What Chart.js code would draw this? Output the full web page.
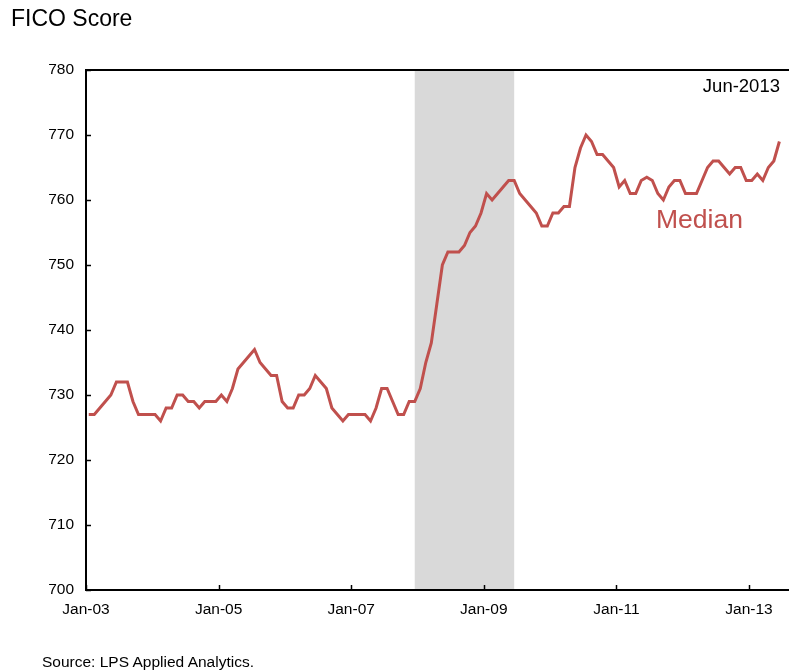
<!DOCTYPE html>
<html>
<head>
<meta charset="utf-8">
<title>FICO Score</title>
<script src="https://cdn.jsdelivr.net/npm/chart.js@4.4.0/dist/chart.umd.min.js"></script>
<style>
  body { margin: 0; background: #fff; font-family: "Liberation Sans", Arial, sans-serif; }
  #wrap { position: relative; width: 789px; height: 672px; overflow: hidden; }
  #wrap canvas { position: absolute; left: 0; top: 0; }
  .txt { position: absolute; line-height: 1; white-space: nowrap; color: #000; }
</style>
</head>
<body>
<div id="wrap">
  <canvas id="ficoChart" width="789" height="672"></canvas>
  <div class="txt" style="left:11px; top:7px; font-size:23px;">FICO Score</div>
  <div class="txt" style="right:9px; top:77px; font-size:18.5px;">Jun-2013</div>
  <div class="txt" style="left:656px; top:206px; font-size:26.5px; color:#C0504D;">Median</div>
  <div class="txt" style="left:42px; top:654px; font-size:15.5px;">Source: LPS Applied Analytics.</div>
</div>
<script>
// monthly median FICO score, Jan-03 .. Jun-13
const medianScore = [
  727, 727, 728, 729, 730, 732, 732, 732, 729, 727, 727, 727,   // 2003
  727, 726, 728, 728, 730, 730, 729, 729, 728, 729, 729, 729,   // 2004
  730, 729, 731, 734, 735, 736, 737, 735, 734, 733, 733, 729,   // 2005
  728, 728, 730, 730, 731, 733, 732, 731, 728, 727, 726, 727,   // 2006
  727, 727, 727, 726, 728, 731, 731, 729, 727, 727, 729, 729,   // 2007
  731, 735, 738, 744, 750, 752, 752, 752, 753, 755, 756, 758,   // 2008
  761, 760, 761, 762, 763, 763, 761, 760, 759, 758, 756, 756,   // 2009
  758, 758, 759, 759, 765, 768, 770, 769, 767, 767, 766, 765,   // 2010
  762, 763, 761, 761, 763, 763.5, 763, 761, 760, 762, 763, 763, // 2011
  761, 761, 761, 763, 765, 766, 766, 765, 764, 765, 765, 763,   // 2012
  763, 764, 763, 765, 766, 769                                  // 2013
];

const monthNames = ['Jan','Feb','Mar','Apr','May','Jun','Jul','Aug','Sep','Oct','Nov','Dec'];
const monthLabels = medianScore.map((v, i) =>
  monthNames[i % 12] + '-' + String(3 + Math.floor(i / 12)).padStart(2, '0'));

const xTickLabels = ['Jan-03', 'Jan-05', 'Jan-07', 'Jan-09', 'Jan-11', 'Jan-13'];
const yTicks = [700, 710, 720, 730, 740, 750, 760, 770, 780];
const recessionSpan = ['Dec-07', 'Jun-09'];

const lineColor = '#C0504D';
const bandColor = '#D9D9D9';
const fontFamily = '"Liberation Sans", Arial, sans-serif';

const xTickPos = xTickLabels.map(l => monthLabels.indexOf(l));
const xMax = 127.24;  // axis runs a bit past the last month

// grey shading for the recession months
const recessionBand = {
  id: 'recessionBand',
  beforeDatasetsDraw(chart) {
    const { ctx, chartArea, scales } = chart;
    const x0 = scales.x.getPixelForValue(monthLabels.indexOf(recessionSpan[0]) + 0.5);
    const x1 = scales.x.getPixelForValue(monthLabels.indexOf(recessionSpan[1]) + 0.5);
    ctx.save();
    ctx.fillStyle = bandColor;
    ctx.fillRect(x0, chartArea.top, x1 - x0, chartArea.bottom - chartArea.top);
    ctx.restore();
  }
};

// frame on left / top / bottom with small inward tick marks
const frame = {
  id: 'frame',
  afterDatasetsDraw(chart) {
    const { ctx, chartArea, scales } = chart;
    const { left, right, top, bottom } = chartArea;
    ctx.save();
    ctx.strokeStyle = '#000';
    ctx.lineWidth = 1.5;
    xTickPos.forEach(v => {
      const x = Math.round(scales.x.getPixelForValue(v)) + 0.5;
      ctx.beginPath(); ctx.moveTo(x, bottom); ctx.lineTo(x, bottom - 5); ctx.stroke();
    });
    yTicks.forEach(v => {
      const y = Math.round(scales.y.getPixelForValue(v)) + 0.5;
      ctx.beginPath(); ctx.moveTo(left, y); ctx.lineTo(left + 5, y); ctx.stroke();
    });
    ctx.lineWidth = 2;
    ctx.beginPath();
    ctx.moveTo(right, top);
    ctx.lineTo(left, top);
    ctx.lineTo(left, bottom);
    ctx.lineTo(right, bottom);
    ctx.stroke();
    ctx.restore();
  }
};

const ctx = document.getElementById('ficoChart').getContext('2d');
new Chart(ctx, {
  type: 'line',
  data: {
    datasets: [{
      label: 'Median',
      data: medianScore.map((v, i) => ({ x: i + 0.5, y: v })),
      borderColor: lineColor,
      borderWidth: 3,
      pointRadius: 0,
      tension: 0,
      fill: false
    }]
  },
  options: {
    responsive: false,
    animation: false,
    layout: { padding: { left: 0, right: 0, top: 70, bottom: 0 } },
    plugins: {
      legend: { display: false },
      tooltip: { enabled: false }
    },
    scales: {
      x: {
        type: 'linear',
        min: 0,
        max: xMax,
        grid: { display: false, drawTicks: false },
        border: { display: false },
        afterBuildTicks: s => { s.ticks = xTickPos.map(v => ({ value: v })); },
        afterFit: s => { s.height = 82; },
        ticks: {
          autoSkip: false,
          maxRotation: 0,
          padding: 10,
          color: '#000',
          font: { family: fontFamily, size: 15.5 },
          callback: v => xTickLabels[xTickPos.indexOf(v)]
        }
      },
      y: {
        min: 700,
        max: 780,
        grid: { display: false, drawTicks: false },
        border: { display: false },
        afterFit: s => { s.width = 86; },
        ticks: {
          stepSize: 10,
          padding: 12,
          color: '#000',
          font: { family: fontFamily, size: 15.5 }
        }
      }
    }
  },
  plugins: [recessionBand, frame]
});
</script>
</body>
</html>
